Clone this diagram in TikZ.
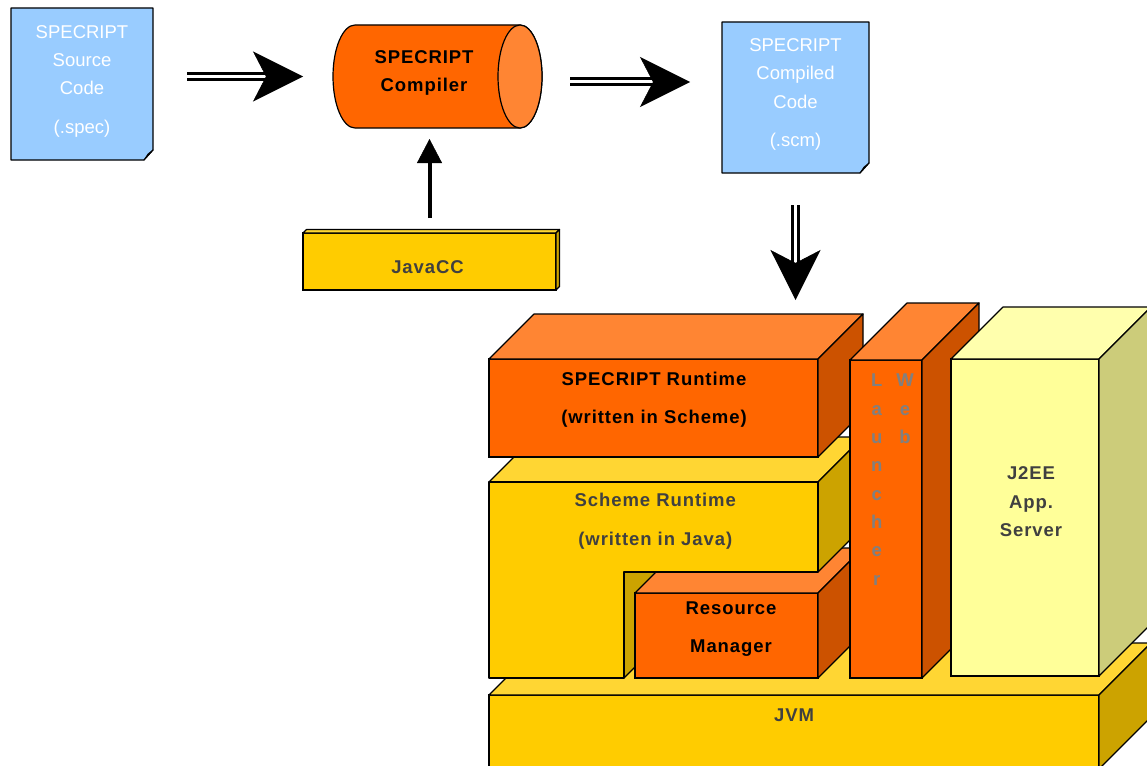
\documentclass[tikz,border=0pt]{standalone}
\usepackage{fontspec}
\setmainfont{Liberation Sans}
\newfontfamily\spaced{Liberation Sans}[LetterSpace=5.0]
\usetikzlibrary{arrows.meta}
\definecolor{docblue}{HTML}{99CCFF}
\definecolor{orfront}{HTML}{FF6600}
\definecolor{ortop}{HTML}{FF8533}
\definecolor{orside}{HTML}{CC5200}
\definecolor{yefront}{HTML}{FFCC00}
\definecolor{yetop}{HTML}{FFD633}
\definecolor{yeside}{HTML}{CCA300}
\definecolor{lyfront}{HTML}{FFFF99}
\definecolor{lytop}{HTML}{FFFFAD}
\definecolor{lyside}{HTML}{CCCC7A}
\definecolor{dgray}{HTML}{404040}
\definecolor{mgray}{HTML}{808080}
\tikzset{
  facenode/.style={draw, line width=1.2pt, inner sep=0pt, outer sep=0pt},
  facepath/.style={draw, line width=1.2pt, line join=round},
  lbl/.style={anchor=north, inner sep=0pt, align=center, font=\fontsize{18.5}{28.3}\selectfont},
  blbl/.style={anchor=north, inner sep=0pt, align=center, font=\spaced\bfseries\fontsize{18.5}{28.3}\selectfont},
  dblarrow/.style={line width=3pt, double=white, double distance=3pt,
     -{Stealth[length=50pt, width=50pt, inset=13pt, line width=0.5pt]}},
  uparrow/.style={line width=4pt, -{Triangle[length=24pt, width=25pt, line width=0.5pt]}},
}
\newcommand\blockcube[6]{%
  \node[facenode, fill=#6front, minimum width=#3pt, minimum height=#4pt] (#1) at (#2) {};
  \filldraw[facepath, fill=#6top] (#1.north west) -- ++(#5,#5) -- ([shift={(#5,#5)}]#1.north east) -- (#1.north east) -- cycle;
  \filldraw[facepath, fill=#6side] (#1.north east) -- ++(#5,#5) -- ([shift={(#5,#5)}]#1.south east) -- (#1.south east) -- cycle;
}
\begin{document}
\begin{tikzpicture}[x=1pt, y=1pt]
\useasboundingbox (0,0) rectangle (1147,-765);
\fill[white] (0,0) rectangle (1147,-765);
\clip (0,0) rectangle (1147,-765);

% ---------- source document ----------
\node[inner sep=0pt, outer sep=0pt, minimum width=142pt, minimum height=152pt] (src) at (82,-84) {};
\filldraw[facepath, fill=docblue] (src.north west) -- (src.north east) -- ([yshift=10pt]src.south east)
   -- ([xshift=-9pt]src.south east) -- (src.south west) -- cycle;
\filldraw[facepath, line width=0.8pt, fill=docblue!70!black] ([yshift=10pt]src.south east)
   -- ([xshift=-5pt, yshift=6pt]src.south east) -- ([xshift=-9pt]src.south east) -- cycle;
\node[lbl, text=white] (srctxt) at (82,-25) {SPECRIPT\\Source\\Code\\[10.8pt](.spec)};

% ---------- compiler cylinder ----------
\node[inner sep=0pt, outer sep=0pt, minimum width=209pt, minimum height=103pt] (comp) at (437.5,-76.5) {};
\filldraw[facepath, fill=orfront] (355,-25) -- (520,-25)
   arc[start angle=90, end angle=-90, x radius=22, y radius=51.5] -- (355,-128)
   arc[start angle=270, end angle=90, x radius=22, y radius=51.5] -- cycle;
\filldraw[facepath, fill=ortop] (520,-76.5) ellipse [x radius=22, y radius=51.5];
\node[blbl, text=black] (comptxt) at (424,-50) {SPECRIPT\\Compiler};

% ---------- compiled document ----------
\node[inner sep=0pt, outer sep=0pt, minimum width=147pt, minimum height=151pt] (cdoc) at (795.5,-97.5) {};
\filldraw[facepath, fill=docblue] (cdoc.north west) -- (cdoc.north east) -- ([yshift=10pt]cdoc.south east)
   -- ([xshift=-9pt]cdoc.south east) -- (cdoc.south west) -- cycle;
\filldraw[facepath, line width=0.8pt, fill=docblue!70!black] ([yshift=10pt]cdoc.south east)
   -- ([xshift=-5pt, yshift=6pt]cdoc.south east) -- ([xshift=-9pt]cdoc.south east) -- cycle;
\node[lbl, text=white] (cdoctxt) at (795.5,-38.3) {SPECRIPT\\Compiled\\Code\\[10pt](.scm)};

% ---------- JavaCC ----------
\blockcube{javacc}{429.5,-261.5}{253}{57}{3.5}{ye}
\node[blbl, text=dgray] (javacctxt) at (427.5,-260) {JavaCC};

% ---------- stack ----------
\blockcube{jvm}{794,-732}{610}{74}{52}{ye}
\node[blbl, text=dgray] (jvmtxt) at (794,-708.3) {JVM};

\filldraw[facepath, fill=yeside] (624,-572) -- (669,-527) -- (669,-633) -- (624,-678) -- cycle;
\blockcube{rm}{726.5,-635.5}{183}{85}{45}{or}
\node[blbl, text=black] (rmtxt) at (731,-601.7) {Resource\\[9.7pt]Manager};

\filldraw[facepath, fill=yetop] (489,-482) -- (534,-437) -- (863,-437) -- (818,-482) -- cycle;
\filldraw[facepath, fill=yeside] (818,-482) -- (863,-437) -- (863,-527) -- (818,-572) -- cycle;
\filldraw[facepath, fill=yefront] (489,-482) -- (818,-482) -- (818,-572) -- (624,-572) -- (624,-678) -- (489,-678) -- cycle;
\node[blbl, text=dgray] (schtxt) at (655.3,-493.3) {Scheme Runtime\\[10pt](written in Java)};

\blockcube{sprt}{653.5,-408}{329}{98}{45}{or}
\node[blbl, text=black] (sprttxt) at (654,-371.7) {SPECRIPT Runtime\\[10pt](written in Scheme)};

\blockcube{web}{886,-519}{72}{318}{57}{or}
\node[blbl, text=mgray] (launchtxt) at (876.7,-374) {L\\a\\u\\n\\c\\h\\e\\r};
\node[blbl, text=mgray] (webtxt) at (905,-374) {W\\e\\b};

\blockcube{j2ee}{1025,-517.5}{148}{317}{52}{ly}
\node[blbl, text=dgray] (j2eetxt) at (1031,-466.7) {J2EE\\App.\\Server};

% ---------- connectors ----------
\draw[dblarrow, shorten <=34pt, shorten >=30pt] (src.east |- comp.west) -- (comp.west);
\coordinate (a2) at ([yshift=-5.5pt]comp.east);
\draw[dblarrow, shorten <=28pt, shorten >=32pt] (a2) -- (a2 -| cdoc.west);
\draw[dblarrow, line width=2.7pt, double distance=2.7pt, shorten <=32pt, shorten >=59pt] (cdoc.south) -- (cdoc.south |- sprt.north);
\draw[uparrow, shorten <=15pt, shorten >=11pt] (javacc.north) -- (javacc.north |- comp.south);
\end{tikzpicture}
\end{document}
